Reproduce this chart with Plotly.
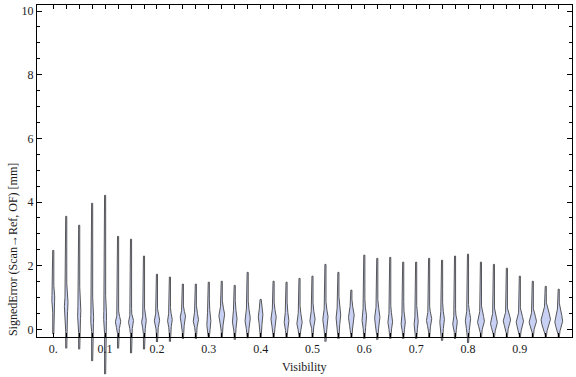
import numpy as np
import plotly.graph_objects as go

# ---------------- data ----------------
visibility = [0.000, 0.025, 0.050, 0.075, 0.100, 0.125, 0.150, 0.175, 0.200, 0.225,
              0.250, 0.275, 0.300, 0.325, 0.350, 0.375, 0.400, 0.425, 0.450, 0.475,
              0.500, 0.525, 0.550, 0.575, 0.600, 0.625, 0.650, 0.675, 0.700, 0.725,
              0.750, 0.775, 0.800, 0.825, 0.850, 0.875, 0.900, 0.925, 0.950, 0.975]

err_max = [2.48, 3.55, 3.27, 3.96, 4.21, 2.92, 2.83, 2.30, 1.73, 1.64,
           1.42, 1.42, 1.48, 1.51, 1.38, 1.79, 0.94, 1.51, 1.48, 1.60,
           1.67, 2.04, 1.79, 1.23, 2.33, 2.23, 2.26, 2.11, 2.11, 2.23,
           2.17, 2.30, 2.36, 2.11, 2.04, 1.92, 1.67, 1.51, 1.35, 1.26]

err_min = [-0.15, -0.60, -0.63, -1.00, -1.41, -0.60, -0.75, -0.63, -0.40, -0.39,
           -0.30, -0.30, -0.25, -0.25, -0.33, -0.28, -0.25, -0.25, -0.25, -0.25,
           -0.25, -0.39, -0.30, -0.25, -0.30, -0.33, -0.30, -0.30, -0.30, -0.25,
           -0.36, -0.30, -0.43, -0.25, -0.25, -0.25, -0.25, -0.25, -0.25, -0.25]

# bulk of each distribution: lower end, mode, upper end, relative peak density
bulk_lo = [0.65, 0.29, 0.08, 0.02, 0.00, -0.13, -0.13, -0.13, -0.10, -0.10,
           -0.07, -0.07, -0.18, -0.07, -0.18, -0.18, -0.07, -0.18, -0.18, -0.18,
           -0.07, -0.28, -0.07, -0.18, -0.18, -0.18, -0.18, -0.18, -0.12, -0.07,
           -0.18, -0.18, -0.25, -0.12, -0.18, -0.12, -0.18, -0.12, -0.18, -0.18]

mode = [0.97, 0.76, 0.50, 0.29, 0.40, 0.24, 0.24, 0.24, 0.29, 0.29,
        0.40, 0.29, 0.20, 0.45, 0.29, 0.29, 0.40, 0.35, 0.24, 0.20,
        0.29, 0.35, 0.40, 0.40, 0.35, 0.35, 0.24, 0.20, 0.20, 0.29,
        0.29, 0.20, 0.29, 0.24, 0.20, 0.29, 0.24, 0.24, 0.29, 0.24]

bulk_hi = [1.25, 1.25, 1.02, 0.75, 0.85, 0.55, 0.55, 0.55, 0.62, 0.65,
           0.71, 0.71, 0.82, 0.87, 0.82, 0.87, 0.87, 0.82, 0.76, 0.71,
           0.76, 0.82, 0.87, 0.92, 0.87, 0.92, 0.71, 0.70, 0.55, 0.71,
           0.76, 0.55, 0.76, 0.71, 0.65, 0.65, 0.65, 0.65, 0.87, 0.82]

peak_density = [1.3, 1.7, 1.5, 1.3, 1.3, 2.7, 2.5, 2.3, 2.7, 2.3,
                2.7, 2.7, 2.0, 3.0, 2.3, 2.7, 2.3, 2.7, 2.3, 2.7,
                2.7, 2.7, 2.3, 3.0, 2.3, 2.7, 2.3, 2.0, 2.0, 2.7,
                2.3, 2.3, 2.7, 3.7, 3.7, 4.0, 4.0, 4.0, 5.3, 4.3]

x_tick_vals = visibility
x_tick_text = ["0." if v == 0 else (f"{v:.1f}" if abs(v * 10 - round(v * 10)) < 1e-9 else "")
               for v in visibility]
y_tick_vals = [0, 2, 4, 6, 8, 10]
y_minor_vals = [0.5, 1, 1.5, 2.5, 3, 3.5, 4.5, 5, 5.5, 6.5, 7, 7.5, 8.5, 9, 9.5]

# ---------------- style ----------------
W, H = 576, 377
ML, MR, MT, MB = 37, 4, 5, 2
X_RANGE = [-0.0314, 1.0006]
Y_RANGE = [-1.436, 10.19]
FRAME_Y0 = -0.25
WIDTH_SCALE = 0.78 / 518.4     # x-units per unit of density
TAIL = 0.7
FILL = "#c8d0f4"
EDGE = "#454545"
FONT = "Liberation Serif"
TXT = "#1a1a1a"


def bump(y, lo, md, hi):
    w = np.zeros_like(y)
    a = (y >= lo) & (y <= md)
    if md > lo:
        w[a] = 0.5 * (1 - np.cos(np.pi * (y[a] - lo) / (md - lo)))
    b = (y > md) & (y <= hi)
    if hi > md:
        w[b] = 0.5 * (1 + np.cos(np.pi * (y[b] - md) / (hi - md)))
    return w


fig = go.Figure()
for i, xc in enumerate(visibility):
    ys = np.linspace(err_min[i], err_max[i], 400)
    lo = max(bulk_lo[i], err_min[i])
    hw = (TAIL + peak_density[i] * bump(ys, lo, mode[i], bulk_hi[i])) * WIDTH_SCALE
    px = np.concatenate([xc + hw, (xc - hw)[::-1]])
    py = np.concatenate([ys, ys[::-1]])
    fig.add_trace(go.Scatter(x=px, y=py, mode="lines", fill="toself",
                             fillcolor=FILL, line=dict(color=EDGE, width=0.9),
                             hoverinfo="skip", showlegend=False))

# empty trace so that the frame subplot (x2/y2) is created
fig.add_trace(go.Scatter(x=[], y=[], xaxis="x2", yaxis="y2", mode="lines",
                         hoverinfo="skip", showlegend=False))

plot_h = H - MT - MB
frame_dom0 = (FRAME_Y0 - Y_RANGE[0]) / (Y_RANGE[1] - Y_RANGE[0])

fig.update_layout(
    width=W, height=H,
    margin=dict(l=ML, r=MR, t=MT, b=MB, pad=0),
    paper_bgcolor="white", plot_bgcolor="rgba(0,0,0,0)",
    showlegend=False,
    font=dict(family=FONT, size=12, color=TXT),
    xaxis=dict(range=X_RANGE, visible=False, domain=[0, 1], anchor="y", fixedrange=True),
    yaxis=dict(range=Y_RANGE, visible=False, domain=[0, 1], anchor="x", fixedrange=True),
    xaxis2=dict(range=X_RANGE, domain=[0, 1], anchor="y2",
                showline=True, linecolor="black", linewidth=1, mirror="ticks",
                ticks="inside", ticklen=4, tickwidth=1, tickcolor="black",
                tickmode="array", tickvals=x_tick_vals, ticktext=x_tick_text,
                showgrid=False, zeroline=False, fixedrange=True,
                tickfont=dict(family=FONT, size=12, color=TXT)),
    yaxis2=dict(range=[FRAME_Y0, Y_RANGE[1]], domain=[frame_dom0, 1], anchor="x2",
                showline=True, linecolor="black", linewidth=1, mirror="ticks",
                ticks="inside", ticklen=5, tickwidth=1, tickcolor="black",
                tickmode="array", tickvals=y_tick_vals,
                ticktext=[str(v) for v in y_tick_vals],
                minor=dict(tickmode="array", tickvals=y_minor_vals, ticks="inside",
                           ticklen=3, tickcolor="black", tickwidth=1, showgrid=False),
                showgrid=False, zeroline=False, fixedrange=True,
                tickfont=dict(family=FONT, size=12, color=TXT)),
    annotations=[
        dict(text="Visibility", xref="paper", yref="paper", x=0.5, y=(H - MB - 367) / plot_h,
             xanchor="center", yanchor="middle", showarrow=False,
             font=dict(family=FONT, size=12, color=TXT)),
        dict(text="SignedError (Scan\u2192Ref, OF) [mm]", xref="paper", yref="y",
             x=(13 - ML) / (W - ML - MR), y=2.49, textangle=-90,
             xanchor="center", yanchor="middle", showarrow=False,
             font=dict(family=FONT, size=12, color=TXT)),
    ],
)

fig.write_html("out.html", config={"displayModeBar": False},
               post_script="document.body.style.margin='0';document.body.style.padding='0';")
